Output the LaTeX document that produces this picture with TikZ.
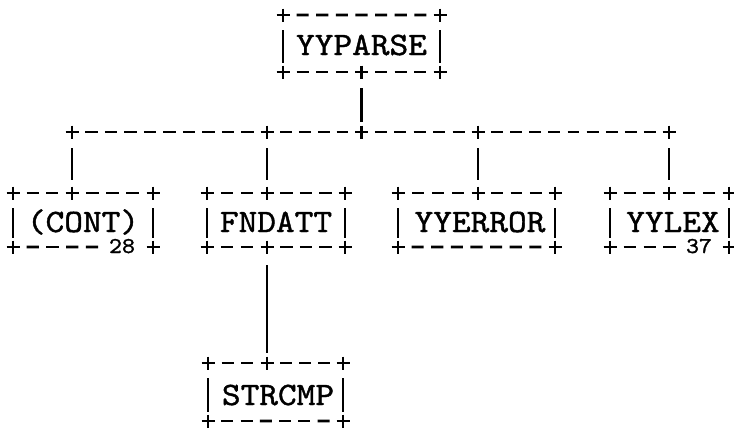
\documentclass[tikz,border=0pt]{standalone}
\usepackage{fontspec}
\usepackage{graphicx}
\newfontfamily\boxfont{lmmono10-regular.otf}[FakeStretch=1.09,FakeBold=1.2]
\usetikzlibrary{calc}
\tikzset{
  crs/.style={line width=1.7pt},
  dsh/.style={line width=2.1pt},
  bar/.style={line width=1.6pt},
  lbl/.style={font=\boxfont\fontsize{24.5}{24.5}\selectfont, inner sep=0pt, anchor=base, text height=15pt, text depth=0pt},
  num/.style={font=\boxfont\fontsize{17}{17}\selectfont, inner sep=0pt, anchor=base, text height=10.5pt, text depth=0pt},
}
\newcommand\crossat[1]{\draw[crs] ($(#1)+(-6.5,0)$) -- ($(#1)+(6.5,0)$) ($(#1)+(0,-6.5)$) -- ($(#1)+(0,6.5)$);}
\newcommand\dashrow[3]{\foreach \k in {1,...,#3}{%
  \pgfmathsetmacro\ta{(\k-0.31)/(#3+1)}\pgfmathsetmacro\tb{(\k+0.31)/(#3+1)}%
  \draw[dsh] ($(#1)!\ta!(#2)$) -- ($(#1)!\tb!(#2)$);}}
\newcommand\mkbox[5]{%
  \coordinate (#1-tl) at (#2,#4); \coordinate (#1-tr) at (#3,#4);
  \coordinate (#1-bl) at (#2,#5); \coordinate (#1-br) at (#3,#5);
  \crossat{#1-tl}\crossat{#1-tr}\crossat{#1-bl}\crossat{#1-br}
  \draw[bar] ($(#1-tl)+(0,15)$) -- ($(#1-bl)+(0,-9)$);
  \draw[bar] ($(#1-tr)+(0,15)$) -- ($(#1-br)+(0,-9)$);}
\begin{document}
\begin{tikzpicture}[x=0.75pt,y=-0.75pt]
\useasboundingbox[fill=white] (0,0) rectangle (734,430);
% YYPARSE
\node[lbl] (yyparse) at (361.5,55) {YYPARSE};
\mkbox{yyparse}{283}{440}{15}{72}
\dashrow{yyparse-tl}{yyparse-tr}{7}
\coordinate (yyparse-bj) at (361.5,72); \crossat{yyparse-bj}
\dashrow{yyparse-bl}{yyparse-bj}{3}\dashrow{yyparse-bj}{yyparse-br}{3}
% bus
\coordinate (bus-1) at (72,132); \coordinate (bus-2) at (267,132);
\coordinate (bus-3) at (361.5,132); \coordinate (bus-4) at (478,132);
\coordinate (bus-5) at (669,132);
\foreach \b in {1,...,5}{\crossat{bus-\b}}
\dashrow{bus-1}{bus-2}{9}\dashrow{bus-2}{bus-3}{4}
\dashrow{bus-3}{bus-4}{5}\dashrow{bus-4}{bus-5}{9}
% (CONT)
\node[lbl] (cont) at (83,232) {(CONT)};
\mkbox{cont}{13}{153}{193}{247}
\coordinate (cont-tj) at (72,193); \crossat{cont-tj}
\dashrow{cont-tl}{cont-tj}{2}\dashrow{cont-tj}{cont-tr}{3}
\coordinate (cont-bn) at (111.7,247);
\dashrow{cont-bl}{cont-bn}{4}
\node[num] (cont-num) at (122,253) {28};
% FNDATT
\node[lbl] (fndatt) at (276,232) {FNDATT};
\mkbox{fndatt}{207}{345}{193}{247}
\coordinate (fndatt-tj) at (267,193); \crossat{fndatt-tj}
\dashrow{fndatt-tl}{fndatt-tj}{2}\dashrow{fndatt-tj}{fndatt-tr}{3}
\coordinate (fndatt-bj) at (267,247); \crossat{fndatt-bj}
\dashrow{fndatt-bl}{fndatt-bj}{2}\dashrow{fndatt-bj}{fndatt-br}{3}
% YYERROR
\node[lbl] (yyerror) at (480,232) {YYERROR};
\mkbox{yyerror}{398}{555}{193}{247}
\coordinate (yyerror-tj) at (478,193); \crossat{yyerror-tj}
\dashrow{yyerror-tl}{yyerror-tj}{3}\dashrow{yyerror-tj}{yyerror-tr}{3}
\dashrow{yyerror-bl}{yyerror-br}{7}
% YYLEX
\node[lbl] (yylex) at (673,232) {YYLEX};
\mkbox{yylex}{610}{729}{193}{247}
\coordinate (yylex-tj) at (669,193); \crossat{yylex-tj}
\dashrow{yylex-tl}{yylex-tj}{2}\dashrow{yylex-tj}{yylex-tr}{2}
\coordinate (yylex-bn) at (689.3,247);
\dashrow{yylex-bl}{yylex-bn}{3}
\node[num] (yylex-num) at (699,253) {37};
% STRCMP
\node[lbl] (strcmp) at (278,405) {STRCMP};
\mkbox{strcmp}{208}{343}{363}{421}
\coordinate (strcmp-tj) at (267,363); \crossat{strcmp-tj}
\dashrow{strcmp-tl}{strcmp-tj}{2}\dashrow{strcmp-tj}{strcmp-tr}{3}
\dashrow{strcmp-bl}{strcmp-br}{6}
% connectors
\draw[bar, shorten <=12pt, shorten >=7.5pt] (yyparse-bj) -- (bus-3);
\draw[bar, shorten <=12pt, shorten >=9.5pt] (bus-1) -- (cont-tj);
\draw[bar, shorten <=12pt, shorten >=9.5pt] (bus-2) -- (fndatt-tj);
\draw[bar, shorten <=12pt, shorten >=9.5pt] (bus-4) -- (yyerror-tj);
\draw[bar, shorten <=12pt, shorten >=9.5pt] (bus-5) -- (yylex-tj);
\draw[bar, shorten <=13.5pt, shorten >=7.5pt] (fndatt-bj) -- (strcmp-tj);
\end{tikzpicture}
\end{document}
